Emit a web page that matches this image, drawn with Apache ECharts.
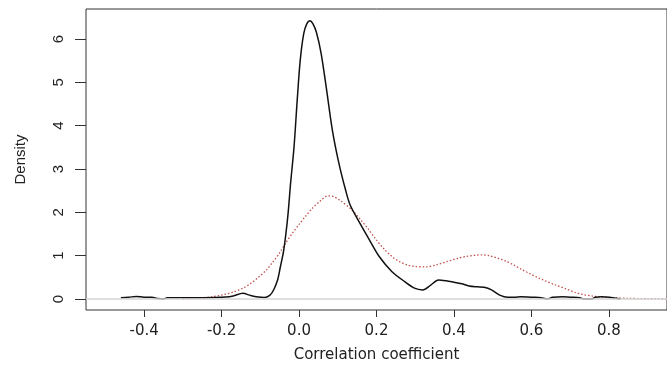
<!DOCTYPE html>
<html>
<head>
<meta charset="utf-8">
<script src="https://cdn.jsdelivr.net/npm/echarts@6/dist/echarts.min.js"></script>
<style>
html,body{margin:0;padding:0;background:#fff;}
#chart{width:667px;height:372px;}
</style>
</head>
<body>
<div id="chart"></div>
<script>
// Empirical density (black solid)
const empX = [-0.46,-0.44,-0.42,-0.40,-0.38,-0.365,-0.35,-0.34,-0.30,-0.26,-0.22,-0.19,-0.17,-0.145,-0.125,-0.105,-0.09,-0.075,-0.065,-0.055,-0.048,-0.040,-0.034,-0.028,-0.022,-0.013,-0.005,0.003,0.012,0.020,0.028,0.036,0.045,0.057,0.070,0.086,0.103,0.120,0.132,0.157,0.182,0.207,0.240,0.273,0.298,0.319,0.340,0.360,0.380,0.398,0.420,0.439,0.460,0.478,0.497,0.518,0.539,0.556,0.572,0.605,0.625,0.64,0.655,0.68,0.70,0.725,0.735,0.755,0.765,0.78,0.81,0.83];
const empY = [0.03,0.04,0.06,0.04,0.04,0.01,0.0,0.03,0.03,0.03,0.035,0.045,0.07,0.13,0.08,0.045,0.035,0.09,0.22,0.45,0.75,1.10,1.50,2.00,2.65,3.50,4.55,5.50,6.12,6.35,6.42,6.35,6.15,5.67,4.90,3.90,3.13,2.52,2.17,1.75,1.36,0.98,0.63,0.40,0.25,0.21,0.32,0.44,0.42,0.39,0.35,0.30,0.28,0.27,0.21,0.09,0.04,0.04,0.05,0.04,0.03,0.0,0.04,0.05,0.04,0.03,0.0,0.0,0.04,0.05,0.03,0.0];
// Smoothed reference density (red dotted)
const refX = [-0.30,-0.287,-0.25,-0.225,-0.195,-0.167,-0.145,-0.125,-0.105,-0.084,-0.068,-0.051,-0.034,-0.017,0.0,0.016,0.035,0.057,0.074,0.09,0.11,0.136,0.16,0.18,0.198,0.22,0.24,0.26,0.281,0.30,0.327,0.355,0.381,0.41,0.431,0.455,0.472,0.49,0.514,0.535,0.555,0.575,0.597,0.615,0.63,0.66,0.688,0.713,0.735,0.755,0.775,0.81,0.85,0.90,0.95];
const refY = [0.0,0.01,0.03,0.05,0.10,0.17,0.25,0.36,0.50,0.67,0.85,1.05,1.30,1.52,1.72,1.90,2.10,2.28,2.38,2.36,2.25,2.06,1.82,1.60,1.38,1.15,0.98,0.86,0.78,0.75,0.74,0.79,0.86,0.94,0.98,1.01,1.02,1.00,0.94,0.87,0.78,0.68,0.58,0.50,0.44,0.33,0.24,0.15,0.10,0.07,0.05,0.03,0.015,0.005,0.0];
const xTicks = [-0.4,-0.2,0.0,0.2,0.4,0.6,0.8];
const yTicks = [0,1,2,3,4,5,6];
const xRange = [-0.55, 0.95];
const yRange = [-0.254, 6.693];

const chart = echarts.init(document.getElementById('chart'));
const pair = (xs, ys) => xs.map((x, i) => [x, ys[i]]);
chart.setOption({
  animation: false,
  backgroundColor: '#ffffff',
  grid: {left: 86, top: 9, bottom: 62, right: -21, show: true, borderColor: '#333', borderWidth: 1, backgroundColor: 'transparent'},
  xAxis: {
    type: 'value', min: xRange[0], max: xRange[1],
    name: 'Correlation coefficient', nameLocation: 'middle', nameGap: 38,
    nameTextStyle: {fontFamily: 'DejaVu Sans', fontSize: 15, color: '#222'},
    axisLine: {show: false, onZero: false},
    axisTick: {show: true, length: 7, customValues: xTicks, lineStyle: {color: '#333'}},
    axisLabel: {customValues: xTicks, margin: 14, fontFamily: 'DejaVu Sans', fontSize: 15, color: '#222',
      formatter: v => v.toFixed(1)},
    splitLine: {show: false}
  },
  yAxis: {
    type: 'value', min: yRange[0], max: yRange[1],
    name: 'Density', nameLocation: 'middle', nameGap: 58,
    nameTextStyle: {fontFamily: 'Liberation Sans', fontSize: 15, color: '#222'},
    axisLine: {show: false, onZero: false},
    axisTick: {show: true, length: 11, customValues: yTicks, lineStyle: {color: '#333'}},
    axisLabel: {customValues: yTicks, rotate: 90, margin: 20, fontFamily: 'Liberation Sans', fontSize: 15, color: '#222',
      formatter: v => String(Math.round(v))},
    splitLine: {show: false}
  },
  series: [
    {type: 'line', data: pair(refX, refY), showSymbol: false, smooth: 0.3, z: 3,
      lineStyle: {color: '#c0504d', width: 1.3, type: [1.5, 2]}},
    {type: 'line', data: pair(empX, empY), showSymbol: false, smooth: 0.3, z: 4,
      lineStyle: {color: '#111', width: 1.5}},
    {type: 'line', data: [[xRange[0], 0], [xRange[1], 0]], showSymbol: false, z: 5, silent: true,
      lineStyle: {color: '#d4d4d4', width: 1.6}}
  ]
});
</script>
</body>
</html>
